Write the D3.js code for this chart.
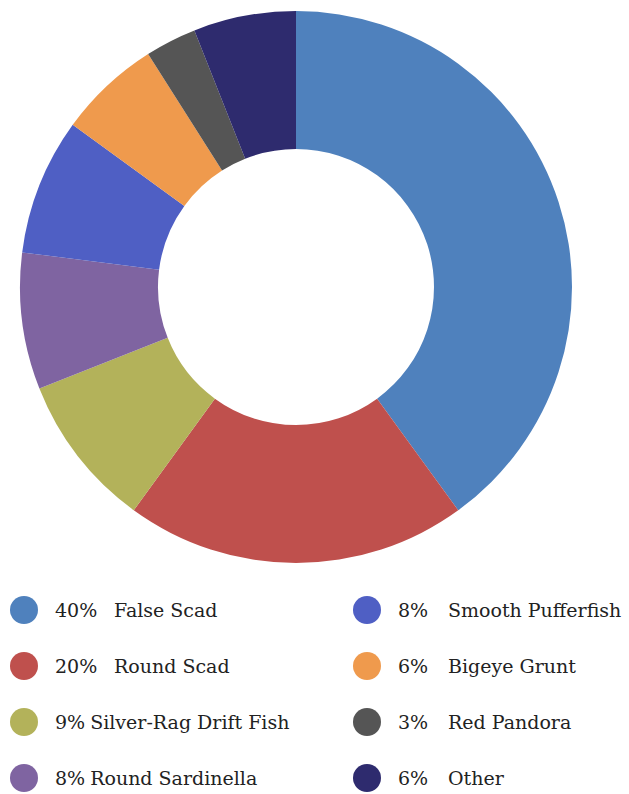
<!DOCTYPE html>
<html>
<head>
<meta charset="utf-8">
<script src="https://cdn.jsdelivr.net/npm/d3@7"></script>
<style>
  html, body { margin: 0; padding: 0; background: #fff; }
  svg { display: block; }
</style>
</head>
<body>
<div id="chart"></div>
<script>
const names = ['False Scad', 'Round Scad', 'Silver-Rag Drift Fish', 'Round Sardinella',
  'Smooth Pufferfish', 'Bigeye Grunt', 'Red Pandora', 'Other'];
const shares = [40, 20, 9, 8, 8, 6, 3, 6];
const colors = ['#4f81bd', '#bf504d', '#b3b25a', '#7f64a1', '#4f5fc4', '#ef9a4d', '#555555', '#2e2b6e'];

const width = 629, height = 794;
const cx = 296, cy = 287, outerR = 276, innerR = 138;

const svg = d3.select('#chart').append('svg')
  .attr('width', width)
  .attr('height', height);

const data = names.map((n, i) => ({name: n, value: shares[i], color: colors[i]}));

const pie = d3.pie().value(d => d.value).sort(null);
const arc = d3.arc().innerRadius(innerR).outerRadius(outerR);

svg.append('g')
  .attr('transform', `translate(${cx},${cy})`)
  .selectAll('path')
  .data(pie(data))
  .enter().append('path')
    .attr('d', arc)
    .attr('fill', d => d.data.color);

// ----------------------------------------------------
// legend, two columns of four
// ----------------------------------------------------
const rowY = d3.scalePoint().domain(d3.range(4)).range([610, 778]);
const cols = [{dot: 24, pct: 55}, {dot: 367, pct: 398}];
const fontSize = 19;

const item = svg.append('g')
  .style('font', `${fontSize}px "DejaVu Serif", serif`)
  .attr('fill', '#222')
  .selectAll('g')
  .data(data)
  .enter().append('g')
    .attr('transform', (d, i) => `translate(0,${rowY(i % 4)})`);

item.append('circle')
  .attr('cx', (d, i) => cols[Math.floor(i / 4)].dot)
  .attr('r', 14)
  .attr('fill', d => d.color);

item.append('text')
  .attr('class', 'pct')
  .attr('x', (d, i) => cols[Math.floor(i / 4)].pct)
  .attr('dy', '0.35em')
  .text(d => d.value + '%');

item.append('text')
  .attr('class', 'name')
  .attr('dy', '0.35em')
  .attr('x', function(d, i) {
    const col = Math.floor(i / 4);
    if (col === 1) return 448;
    if (d.value >= 10) return 114;
    const pctNode = this.parentNode.querySelector('.pct');
    return cols[0].pct + pctNode.getComputedTextLength() + 5;
  })
  .text(d => d.name);
</script>
</body>
</html>
